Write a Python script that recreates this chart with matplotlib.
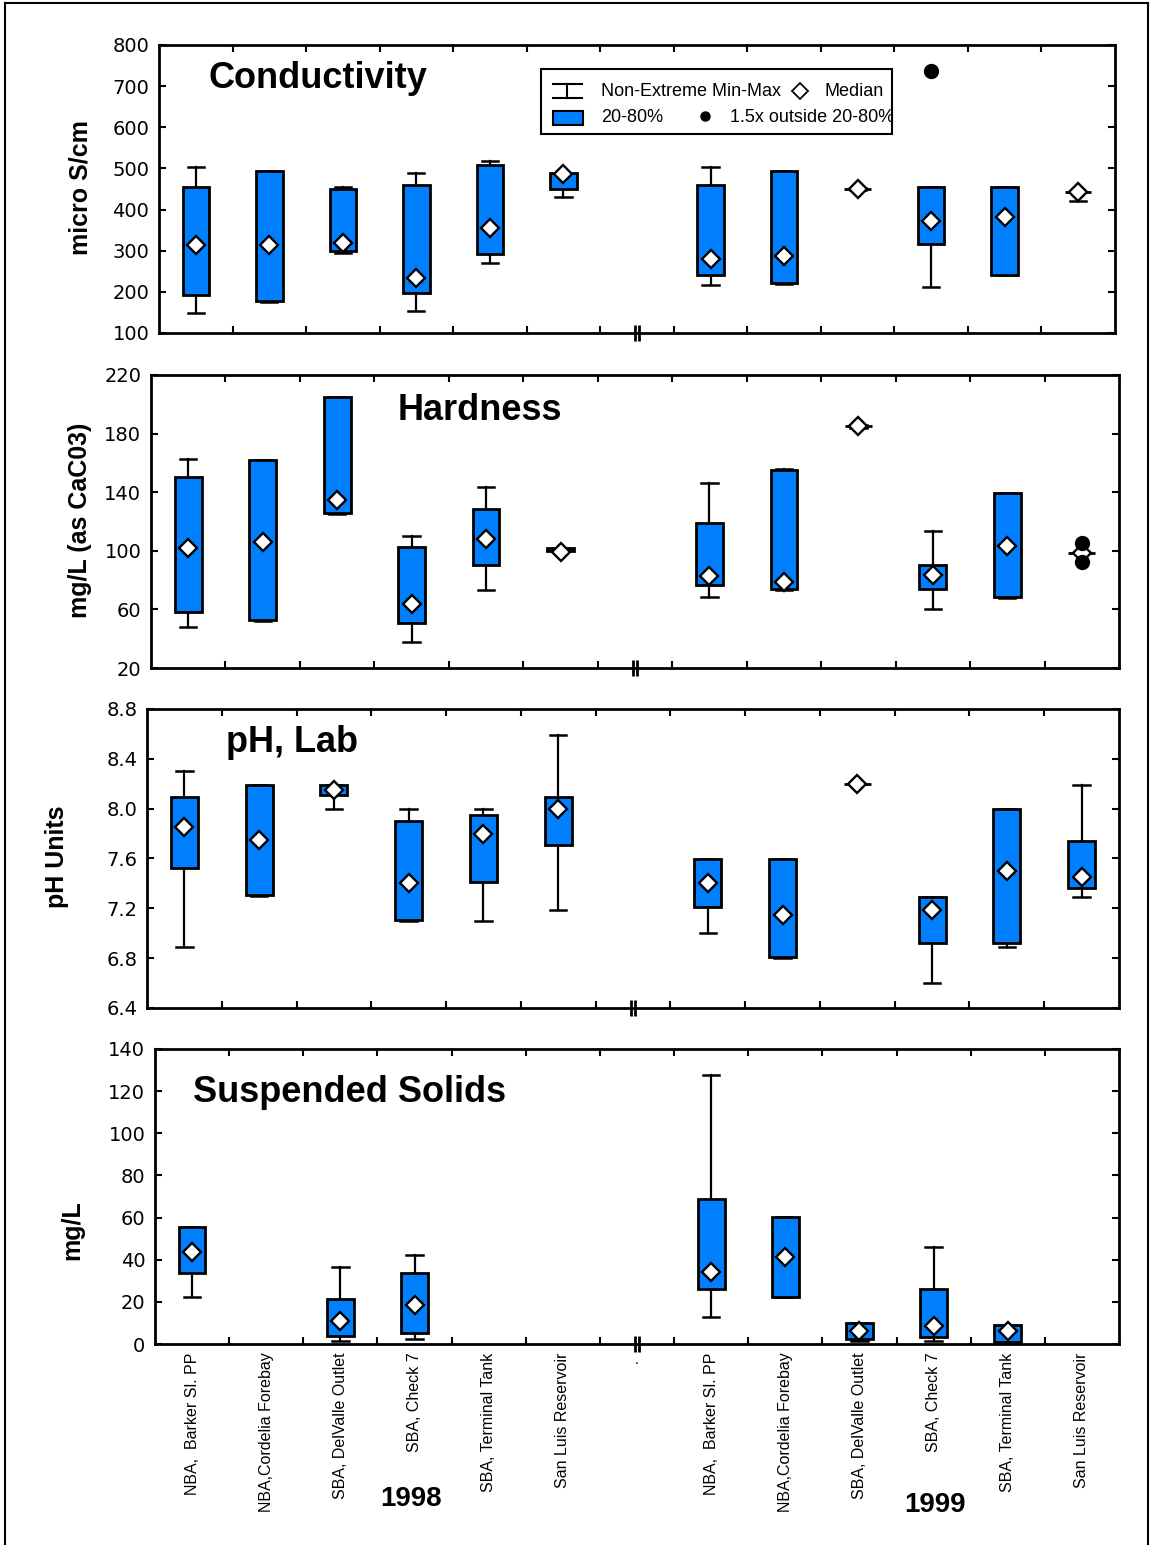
import numpy as np
import matplotlib
matplotlib.use("Agg")
import matplotlib.pyplot as plt
from matplotlib.patches import Rectangle
from matplotlib.lines import Line2D
from matplotlib.ticker import FormatStrFormatter

plt.rcParams['font.family'] = ['Liberation Sans', 'DejaVu Sans']

W, H = 1151, 1545
BLUE = '#0080ff'

sites = ["NBA,  Barker Sl. PP", "NBA,Cordelia Forebay", "SBA, DelValle Outlet",
         "SBA, Check 7", "SBA, Terminal Tank", "San Luis Reservoir"]
years = ["1998", "1999"]
nan = np.nan

# each list: 6 sites for 1998 followed by 6 sites for 1999
cond_lo  = [149, 176, 295, 154, 271, 431,   217, 218, 448, 213, 240, 421]
cond_q20 = [192, 178, 299, 198, 291, 451,   241, 222, 450, 316, 241, 443]
cond_med = [314, 314, 318, 233, 356, 486,   280, 286, 450, 372, 381, 443]
cond_q80 = [456, 494, 450, 460, 508, 490,   460, 494, 450, 456, 456, 443]
cond_hi  = [504, 494, 456, 490, 519, 490,   504, 494, 452, 456, 456, 443]
cond_out = {9: [737]}

hard_lo  = [48, 52, 125, 38, 73, 100,      68.5, 73, 184, 60.5, 67.5, 98.7]
hard_q20 = [58, 53, 126, 51, 90.5, 100,    76.7, 74, 185, 74, 68.2, 98.7]
hard_med = [102, 106, 135, 64, 108, 99,    83, 78.5, 185, 83.5, 103, 98.7]
hard_q80 = [150.5, 162, 205, 102.5, 128.5, 102,  119, 155, 185, 90.5, 139.5, 98.7]
hard_hi  = [163, 162, 205, 110, 143.5, 102,      146, 156, 186, 113.5, 139.5, 98.7]
hard_out = {11: [105, 92.5]}

ph_lo  = [6.89, 7.30, 8.00, 7.10, 7.10, 7.19,   7.00, 6.80, 8.20, 6.60, 6.89, 7.29]
ph_q20 = [7.52, 7.31, 8.11, 7.11, 7.41, 7.71,   7.21, 6.81, 8.20, 6.92, 6.92, 7.36]
ph_med = [7.85, 7.75, 8.15, 7.40, 7.80, 8.00,   7.40, 7.15, 8.20, 7.19, 7.50, 7.45]
ph_q80 = [8.09, 8.19, 8.19, 7.90, 7.95, 8.09,   7.60, 7.60, 8.20, 7.29, 8.00, 7.74]
ph_hi  = [8.30, 8.19, 8.19, 8.00, 8.00, 8.59,   7.60, 7.60, 8.20, 7.29, 8.00, 8.19]
ph_out = {}

ss_lo  = [22.5, nan, 1.6, 2.5, nan, nan,    13.0, 22.5, 1.6, 1.6, 1.0, nan]
ss_q20 = [33.8, nan, 3.6, 5.4, nan, nan,    26.2, 22.5, 2.4, 3.5, 1.1, nan]
ss_med = [43.5, nan, 11.1, 18.5, nan, nan,  34.0, 41.4, 6.2, 8.4, 6.2, nan]
ss_q80 = [55.5, nan, 21.5, 33.8, nan, nan,  68.8, 60.3, 10.1, 26.2, 9.0, nan]
ss_hi  = [55.5, nan, 36.5, 42.2, nan, nan,  127.8, 60.3, 10.1, 46.0, 9.0, nan]
ss_out = {}

panels = [
    dict(title="Conductivity", ylabel="micro S/cm", ylim=(100, 800), yticks=np.arange(100, 801, 100),
         fmt='%d', data=(cond_lo, cond_q20, cond_med, cond_q80, cond_hi), out=cond_out,
         box=(159, 45, 1115, 333), tpos=(208, 79), lpos=(80, 188)),
    dict(title="Hardness", ylabel="mg/L (as CaC03)", ylim=(20, 220), yticks=np.arange(20, 221, 40),
         fmt='%d', data=(hard_lo, hard_q20, hard_med, hard_q80, hard_hi), out=hard_out,
         box=(151, 375, 1119, 668), tpos=(398, 410), lpos=(80, 520)),
    dict(title="pH, Lab", ylabel="pH Units", ylim=(6.4, 8.8), yticks=np.arange(6.4, 8.81, 0.4),
         fmt='%.1f', data=(ph_lo, ph_q20, ph_med, ph_q80, ph_hi), out=ph_out,
         box=(147, 709, 1119, 1008), tpos=(226, 743), lpos=(57, 857)),
    dict(title="Suspended Solids", ylabel="mg/L", ylim=(0, 140), yticks=np.arange(0, 141, 20),
         fmt='%d', data=(ss_lo, ss_q20, ss_med, ss_q80, ss_hi), out=ss_out,
         box=(155, 1049, 1119, 1344), tpos=(193, 1093), lpos=(72, 1230)),
]

xpos = np.r_[np.arange(6) + 0.5, np.arange(6) + 7.5]
major = np.r_[np.arange(1, 7), np.arange(7, 13)]

fig = plt.figure(figsize=(W / 100, H / 100), dpi=100)

for k, p in enumerate(panels):
    x0, y0, x1, y1 = p['box']
    ax = fig.add_axes([x0 / W, 1 - y1 / H, (x1 - x0) / W, (y1 - y0) / H])
    lo, q20, med, q80, hi = p['data']
    for i, x in enumerate(xpos):
        if np.isnan(med[i]):
            continue
        ax.plot([x, x], [lo[i], q20[i]], color='k', lw=1.6, zorder=2)
        ax.plot([x, x], [q80[i], hi[i]], color='k', lw=1.6, zorder=2)
        ax.plot([x - 0.11, x + 0.11], [lo[i], lo[i]], color='k', lw=1.8, zorder=2)
        ax.plot([x - 0.11, x + 0.11], [hi[i], hi[i]], color='k', lw=1.8, zorder=2)
        ax.add_patch(Rectangle((x - 0.18, q20[i]), 0.36, q80[i] - q20[i],
                               facecolor=BLUE, edgecolor='k', lw=2, zorder=3))
        ax.plot(x, med[i], 'D', mfc='white', mec='k', ms=9.5, mew=1.7, zorder=5)
    for i, vals in p['out'].items():
        ax.plot([xpos[i]] * len(vals), vals, 'o', color='k', ms=10, zorder=6)

    ax.set_xlim(0, 13)
    ax.set_ylim(*p['ylim'])
    ax.set_yticks(p['yticks'])
    ax.yaxis.set_major_formatter(FormatStrFormatter(p['fmt']))
    ax.set_xticks(major)
    ax.set_xticklabels([])
    ax.tick_params(which='major', direction='in', top=True, right=True,
                   length=5, width=1.5, labelsize=14, pad=7)
    for lbl in ax.get_yticklabels():
        lbl.set_fontfamily('DejaVu Sans')
    for s in ax.spines.values():
        s.set_linewidth(2)
    # axis break between the two years
    ax.plot([6.47, 6.53], [0, 0], transform=ax.get_xaxis_transform(), marker='|',
            ms=11, mew=2, ls='none', color='k', clip_on=False, zorder=7)

    ax.text((p['tpos'][0] - x0) / (x1 - x0), 1 - (p['tpos'][1] - y0) / (y1 - y0), p['title'],
            transform=ax.transAxes, fontsize=26, weight='bold', ha='left', va='center')
    fig.text(p['lpos'][0] / W, 1 - p['lpos'][1] / H, p['ylabel'], rotation=90,
             ha='center', va='center', fontsize=18, weight='bold')

    if k == 0:
        # legend box
        def fx(px):
            return (px - x0) / (x1 - x0)

        def fy(py):
            return 1 - (py - y0) / (y1 - y0)
        leg = Rectangle((fx(541), fy(134)), fx(892) - fx(541), fy(69) - fy(134),
                        transform=ax.transAxes, facecolor='white', edgecolor='k', lw=1.5, zorder=8)
        ax.add_patch(leg)
        r1, r2 = 91, 118
        ax.plot([fx(567), fx(567)], [fy(r1 - 7), fy(r1 + 7)], transform=ax.transAxes, color='k', lw=1.5, zorder=9)
        ax.plot([fx(553), fx(582)], [fy(r1 - 7), fy(r1 - 7)], transform=ax.transAxes, color='k', lw=1.5, zorder=9)
        ax.plot([fx(553), fx(582)], [fy(r1 + 7), fy(r1 + 7)], transform=ax.transAxes, color='k', lw=1.5, zorder=9)
        ax.add_patch(Rectangle((fx(553), fy(r2 + 7)), fx(583) - fx(553), fy(r2 - 7) - fy(r2 + 7),
                               transform=ax.transAxes, facecolor=BLUE, edgecolor='k', lw=1.5, zorder=9))
        ax.plot(fx(800), fy(r1), 'D', transform=ax.transAxes, mfc='white', mec='k', ms=8.5, mew=1.3, zorder=9)
        ax.plot(fx(705), fy(r2 - 2), 'o', transform=ax.transAxes, color='k', ms=6.5, zorder=9)
        for tx, ty, s in [(601, r1, "Non-Extreme Min-Max"), (825, r1, "Median"),
                          (601, r2, "20-80%"), (730, r2, "1.5x outside 20-80%")]:
            t = ax.text(fx(tx), fy(ty), s, transform=ax.transAxes, fontsize=13,
                        ha='left', va='center', zorder=9, clip_on=True)
            t.set_clip_path(leg)

    if k == 3:
        ax.set_xticks(xpos, [s for y in years for s in sites], minor=True)
        ax.tick_params(which='minor', length=0, labelsize=11.5, rotation=90, pad=6)
        ax.text(6.5, -0.03, ".", transform=ax.get_xaxis_transform(), ha='center', va='top', fontsize=10)

fig.text(411 / W, 1 - 1499 / H, "1998", ha='center', va='center', fontsize=20, weight='bold')
fig.text(935 / W, 1 - 1505 / H, "1999", ha='center', va='center', fontsize=20, weight='bold')

# outer frame of the figure
for xs, ys in [([5, 5], [3, H]), ([5, 1148], [3, 3]), ([1148, 1148], [3, H])]:
    fig.add_artist(Line2D([x / W for x in xs], [1 - y / H for y in ys], color='k', lw=1.5))

fig.savefig("out.png", dpi=100)
